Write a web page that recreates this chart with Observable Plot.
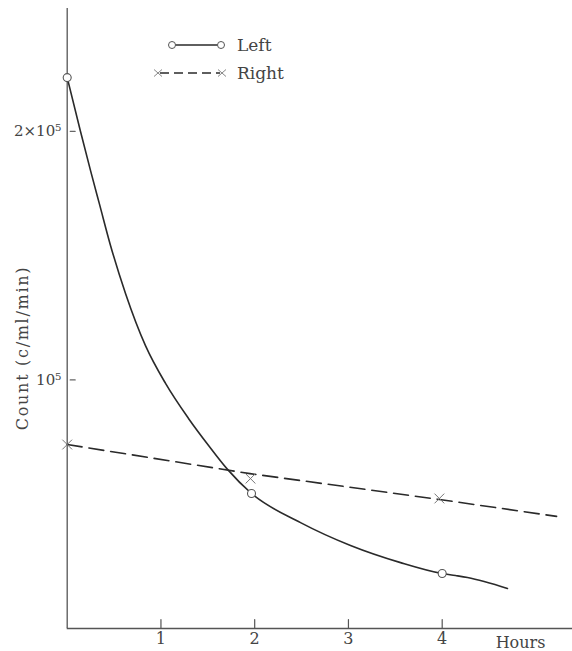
<!DOCTYPE html>
<html>
<head>
<meta charset="utf-8">
<script src="https://cdn.jsdelivr.net/npm/d3@7"></script>
<script src="https://cdn.jsdelivr.net/npm/@observablehq/plot@0.6"></script>
<style>
  html, body { margin: 0; padding: 0; background: #fff; }
  #wrap { position: relative; width: 572px; height: 651px; }
  #overlay { position: absolute; left: 0; top: 0; pointer-events: none; }
  svg text { font-family: "DejaVu Serif", serif; }
</style>
</head>
<body>
<div id="wrap"><div id="chart"></div><div id="overlay"></div></div>
<script>
// Left: smooth curve through read points
const leftCurveHours  = [0, 0.142, 0.249, 0.345, 0.462, 0.622, 0.835, 1.049, 1.294, 1.508, 1.71, 1.966, 2.489, 3.022, 3.556, 4.0, 4.142, 4.27, 4.696];
const leftCurveCounts = [221600, 199900, 184200, 170600, 154100, 134800, 113800, 98600, 84500, 73600, 64000, 54300, 42600, 33400, 26500, 22100, 21300, 20500, 16100];
// Left: measured points (circles)
const leftPointHours  = [0, 1.966, 4.0];
const leftPointCounts = [221600, 54300, 22100];
// Right: dashed line
const rightLineHours  = [0, 1.95, 3.97, 5.22];
const rightLineCounts = [74000, 62300, 51900, 45100];
// Right: measured points (crosses)
const rightPointHours  = [0, 1.955, 3.97];
const rightPointCounts = [74000, 60300, 52300];
// Axes
const xTicks = [1, 2, 3, 4];
const yTicks = [100000, 200000];
const yTickLabels = ["10\u2075", "2\u00d710\u2075"];
const yLabel = "Count (c/ml/min)";
const xLabel = "Hours";
const seriesNames = ["Left", "Right"];

const zip = (xs, ys) => xs.map((x, i) => ({x, y: ys[i]}));
const leftCurve = zip(leftCurveHours, leftCurveCounts);
const leftPts = zip(leftPointHours, leftPointCounts);
const rightLine = zip(rightLineHours, rightLineCounts);
const rightPts = zip(rightPointHours, rightPointCounts);

const ink = "#2a2a2a";
const chart = Plot.plot({
  width: 572,
  height: 651,
  marginLeft: 66.7,
  marginRight: 0,
  marginTop: 8,
  marginBottom: 23,
  style: {fontFamily: "DejaVu Serif, serif", fontSize: "16px", color: "#444", background: "#fff"},
  x: {domain: [0, 5.39], axis: null},
  y: {domain: [0, 249400], axis: null},
  marks: [
    Plot.ruleX([0], {stroke: "#555", strokeWidth: 1.3}),
    Plot.ruleY([0], {stroke: "#555", strokeWidth: 1.3}),
    // inward tick marks: arrow vectors with zero-size heads
    Plot.vector(xTicks, {x: d => d, y: 0, length: 9, rotate: 0, anchor: "start", r: 0, stroke: "#555", strokeWidth: 1.2}),
    Plot.vector(yTicks, {x: 0, y: d => d, length: 5, rotate: 90, anchor: "start", r: 0, dx: 3, stroke: "#666", strokeWidth: 1.2}),
    Plot.axisX({ticks: xTicks, anchor: "bottom", tickSize: 0, tickPadding: 4, fontSize: 16, fill: "#444", label: null,
      tickFormat: d3.format("d")}),
    Plot.axisY({ticks: yTicks, anchor: "left", tickSize: 0, tickPadding: 6, fontSize: 15, fill: "#444", label: null,
      tickFormat: (d) => yTickLabels[yTicks.indexOf(d)]}),
    Plot.text([xLabel], {frameAnchor: "bottom-right", textAnchor: "middle", lineAnchor: "middle", dx: -52, dy: 14,
      fontSize: 16, fill: "#444", text: d => d}),
    Plot.line(rightLine, {x: "x", y: "y", stroke: ink, strokeWidth: 1.6, strokeDasharray: "15,7"}),
    Plot.line(leftCurve, {x: "x", y: "y", curve: "monotone-x", stroke: ink, strokeWidth: 1.6}),
    Plot.dot(rightPts, {x: "x", y: "y", symbol: "times", r: 4.5, stroke: "#777", strokeWidth: 1}),
    Plot.dot(leftPts, {x: "x", y: "y", r: 4, fill: "white", stroke: "#555", strokeWidth: 1.1})
  ]
});
document.getElementById("chart").appendChild(chart);

// Overlay: y-axis title and legend
const ov = d3.select("#overlay").append("svg").attr("width", 572).attr("height", 651);
ov.append("text")
  .attr("transform", "translate(22,348) rotate(-90)")
  .attr("text-anchor", "middle").attr("dy", "0.35em")
  .attr("font-size", 16).attr("letter-spacing", "1.7px").attr("fill", "#444")
  .text(yLabel);

const lg = ov.append("g").attr("transform", "translate(150,30)");
const r1 = lg.append("g").attr("transform", "translate(0,15)");
r1.append("line").attr("x1", 22).attr("x2", 70).attr("y1", 0).attr("y2", 0).attr("stroke", ink).attr("stroke-width", 1.6);
r1.append("circle").attr("cx", 22).attr("cy", 0).attr("r", 3.5).attr("fill", "white").attr("stroke", "#555");
r1.append("circle").attr("cx", 71).attr("cy", 0).attr("r", 3.5).attr("fill", "white").attr("stroke", "#555");
r1.append("text").attr("x", 87).attr("y", 0).attr("dy", "0.35em").attr("font-size", 17).attr("fill", "#444").text(seriesNames[0]);
const r2 = lg.append("g").attr("transform", "translate(0,43)");
r2.append("line").attr("x1", 10).attr("x2", 70).attr("y1", 0).attr("y2", 0).attr("stroke", ink).attr("stroke-width", 1.6).attr("stroke-dasharray", "9,5");
const cross = (g, cx) => {
  g.append("path").attr("d", `M${cx-4},-3.5L${cx+4},3.5M${cx-4},3.5L${cx+4},-3.5`).attr("stroke", "#888").attr("fill", "none");
};
cross(r2, 8); cross(r2, 72);
r2.append("text").attr("x", 87).attr("y", 0).attr("dy", "0.35em").attr("font-size", 17).attr("fill", "#444").text(seriesNames[1]);
</script>
</body>
</html>
